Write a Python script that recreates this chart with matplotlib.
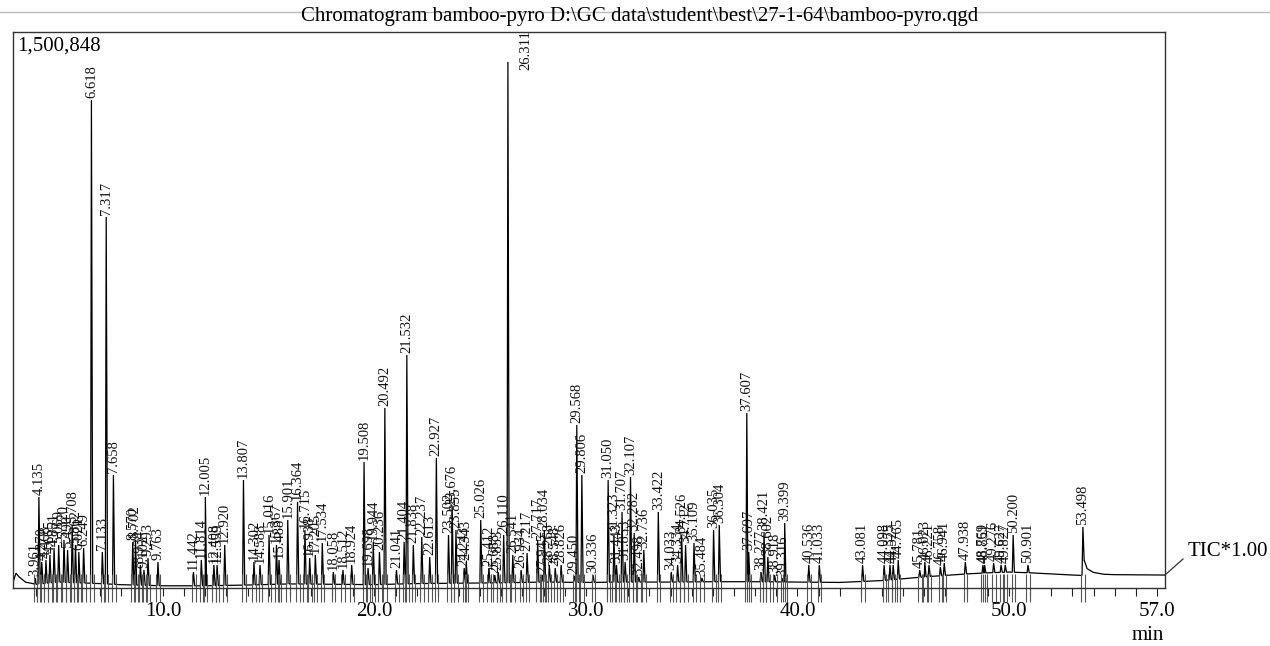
import numpy as np
import matplotlib
matplotlib.use("Agg")
import matplotlib.pyplot as plt
import matplotlib.transforms as mtransforms
from matplotlib.lines import Line2D

plt.rcParams['font.family'] = ['Liberation Serif', 'DejaVu Serif']

# ---------------- data ----------------
title = "Chromatogram bamboo-pyro D:\\GC data\\student\\best\\27-1-64\\bamboo-pyro.qgd"
y_max = 1500848
x_range = (2.91, 57.38)
major_ticks = [10.0, 20.0, 30.0, 40.0, 50.0, 57.0]
minor_ticks = list(range(4, 58))

baseline_time = [2.91, 3.05, 3.2, 3.5, 4.0, 5.0, 6.0, 7.0, 8.0, 10.0, 12.0, 14.0,
                 16.0, 18.0, 20.0, 22.0, 24.0, 26.0, 28.0, 30.0, 32.0, 34.0, 36.0,
                 38.0, 40.0, 42.0, 44.0, 46.0, 48.0, 49.0, 50.0, 51.0, 52.0, 53.0,
                 53.45, 53.56, 53.7, 54.0, 54.5, 55.0, 57.38]
baseline_level = [15000, 40000, 30000, 16000, 10000, 16000, 14000, 12000, 9000, 6000,
                  6000, 8000, 11000, 10000, 9000, 12000, 13000, 14000, 16000, 15000,
                  16000, 16000, 17000, 17000, 16000, 15000, 20000, 30000, 38000, 41000,
                  43000, 41000, 38000, 35000, 34000, 75000, 52000, 42000, 37000, 36000,
                  35000]

peak_rt = [3.961, 4.135, 4.270, 4.468, 4.655, 4.851, 5.069, 5.320, 5.490, 5.708,
           5.862, 6.021, 6.249, 6.618, 7.133, 7.317, 7.658, 8.570, 8.702, 8.934,
           9.102, 9.293, 9.763, 11.442, 11.814, 12.005, 12.408, 12.559, 12.920, 13.807,
           14.302, 14.588, 15.016, 15.367, 15.488, 15.901, 16.364, 16.715, 16.938, 17.205,
           17.534, 18.058, 18.512, 18.924, 19.508, 19.698, 19.944, 20.236, 20.492, 21.041,
           21.404, 21.532, 21.838, 22.237, 22.613, 22.927, 23.502, 23.676, 23.855, 24.243,
           24.343, 25.026, 25.412, 25.688, 25.853, 26.110, 26.311, 26.541, 26.934, 27.217,
           27.717, 27.945, 28.034, 28.268, 28.548, 28.826, 29.450, 29.568, 29.806, 30.336,
           31.050, 31.323, 31.443, 31.707, 31.853, 32.107, 32.282, 32.498, 32.736, 33.422,
           34.033, 34.334, 34.526, 34.712, 35.109, 35.484, 36.035, 36.304, 37.607, 37.697,
           38.277, 38.421, 38.602, 38.918, 39.316, 39.399, 40.536, 41.033, 43.081, 44.098,
           44.375, 44.527, 44.765, 45.781, 46.023, 46.221, 46.758, 46.941, 47.938, 48.769,
           48.851, 49.276, 49.627, 49.827, 50.200, 50.901, 53.498]
peak_height = [27000, 245700, 70200, 75600, 89100, 108000, 116100, 129600, 102600, 170100,
               116100, 97200, 108000, 1317600, 97200, 1001700, 305100, 124000, 129600, 62100,
               48600, 81000, 70200, 43200, 75600, 245700, 62100, 62100, 116100, 291600,
               70200, 62100, 143100, 116100, 75600, 183600, 232200, 156600, 81000, 89100,
               121500, 43200, 48600, 62100, 340200, 54000, 124200, 97200, 486000, 48600,
               124200, 629100, 116100, 137700, 83700, 351000, 143100, 218700, 156600, 54000,
               70200, 183600, 54000, 35100, 43200, 143100, 1420200, 89100, 48600, 94500,
               129600, 35100, 156600, 62100, 54000, 62100, 32400, 440100, 305100, 35100,
               291600, 143100, 62100, 205200, 70200, 299700, 148500, 29700, 102600, 205200,
               43200, 62100, 143100, 116100, 121500, 27000, 156600, 170100, 472500, 97200,
               43200, 151200, 83700, 35100, 27000, 175500, 62100, 62100, 62100, 62100,
               62100, 62100, 75600, 48600, 70200, 62100, 56700, 67500, 70200, 62100,
               62100, 67500, 62100, 62100, 143100, 62100, 164700]

# ---------------- figure ----------------
W, H = 1270, 646
fig = plt.figure(figsize=(W / 100, H / 100), dpi=100)
ax_l, ax_r, ax_t, ax_b = 13, 1165, 32, 588
ax = fig.add_axes([ax_l / W, 1 - ax_b / H, (ax_r - ax_l) / W, (ax_b - ax_t) / H])

bt = np.array(baseline_time, dtype=float)
bl = np.array(baseline_level, dtype=float)

# build trace: baseline knots + narrow peak profiles
xs = list(bt)
ys = list(bl)
for rt, h in zip(peak_rt, peak_height):
    x0, x1 = rt - 0.04, rt + 0.06
    b0, b1 = np.interp(x0, bt, bl), np.interp(x1, bt, bl)
    top = max(h, np.interp(rt, bt, bl) + 8000)
    xs += [x0, rt, x1]
    ys += [b0, top, b1]
xs = np.array(xs)
ys = np.array(ys)
order = np.argsort(xs, kind="stable")
ax.plot(xs[order], ys[order], color="black", lw=0.9, solid_joinstyle="miter")

# integration markers crossing the axis
trans = mtransforms.blended_transform_factory(ax.transData, ax.transAxes)
rts = np.array(peak_rt)
ax.vlines(np.concatenate([rts - 0.07, rts + 0.1]), -0.025, 0.025, transform=trans,
          clip_on=False, color="#555555", lw=0.8)

# peak labels
for rt, h in zip(peak_rt, peak_height):
    lab = f"{rt:.3f}"
    if h > 0.9 * y_max:
        ax.annotate(lab, (rt, y_max), xytext=(13, 1.5), textcoords="offset points",
                    rotation=90, ha="center", va="top", fontsize=10.5, color="#111111",
                    annotation_clip=False)
    else:
        ax.annotate(lab, (rt, h), xytext=(0, 1.5), textcoords="offset points",
                    rotation=90, ha="center", va="bottom", fontsize=10.5, color="#111111",
                    annotation_clip=False)

ax.set_xlim(*x_range)
ax.set_ylim(0, y_max)
ax.set_yticks([])
ax.set_xticks(major_ticks)
ax.set_xticklabels([f"{t:.1f}" for t in major_ticks])
ax.set_xticks(minor_ticks, minor=True)
ax.tick_params(axis="x", which="both", direction="out", length=6, width=0.8,
               labelsize=15, pad=4, color="#222222")
for s in ax.spines.values():
    s.set_color("#333333")
    s.set_linewidth(1.0)

# texts
fig.text(640 / W, 1 - 17 / H, title, ha="center", va="center", fontsize=15)
fig.text(17 / W, 1 - 46 / H, f"{y_max:,}", ha="left", va="center", fontsize=15)
fig.text(1148 / W, 1 - 636 / H, "min", ha="center", va="center", fontsize=15)
fig.text(1188 / W, 1 - 552 / H, "TIC*1.00", ha="left", va="center", fontsize=15)
fig.add_artist(Line2D([1165 / W, 1183 / W], [1 - 575 / H, 1 - 559 / H],
                      transform=fig.transFigure, color="#333333", lw=0.9))
fig.add_artist(Line2D([0, 1], [1 - 11.5 / H, 1 - 11.5 / H],
                      transform=fig.transFigure, color="#bbbbbb", lw=1.0))

fig.savefig("out.png", dpi=100)
